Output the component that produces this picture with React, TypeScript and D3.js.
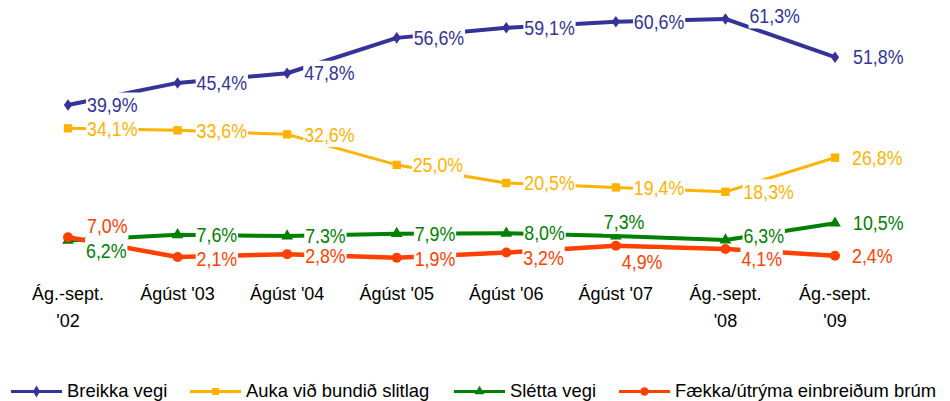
import React, { useEffect, useRef } from "react";
import * as d3 from "d3";

const categories = [
  ["Ág.-sept.", "'02"],
  ["Ágúst '03"],
  ["Ágúst '04"],
  ["Ágúst '05"],
  ["Ágúst '06"],
  ["Ágúst '07"],
  ["Ág.-sept.", "'08"],
  ["Ág.-sept.", "'09"],
];

const seriesNames = [
  "Breikka vegi",
  "Auka við bundið slitlag",
  "Slétta vegi",
  "Fækka/útrýma einbreiðum brúm",
];

const breikka = [39.9, 45.4, 47.8, 56.6, 59.1, 60.6, 61.3, 51.8];
const auka = [34.1, 33.6, 32.6, 25.0, 20.5, 19.4, 18.3, 26.8];
const sletta = [6.2, 7.6, 7.3, 7.9, 8.0, 7.3, 6.3, 10.5];
const faekka = [7.0, 2.1, 2.8, 1.9, 3.2, 4.9, 4.1, 2.4];

// label placement offsets (dx to left edge, dy to text middle)
const breikkaOff = [[19, 0], [19, 0], [17, 0], [17, 0], [18, 0], [18, 0], [24, -3], [18, 0]];
const aukaOff = [[19, 0], [19, 0], [17, 0], [16, 0], [18, 0], [18, 0], [18, 0], [17, 0]];
const slettaOff = [[18, 10], [19, 0], [18, 0], [18, 0], [18, 0], [-12, -14.5], [18, -4], [18, 0]];
const faekkaOff = [[19, -11], [19, 1.5], [18, 2], [18, 1], [17, 5], [6, 16], [16, 10], [17, 0]];

const colors = ["#333399", "#FFB300", "#008000", "#FF4000"];
const widths = [4, 3, 4, 4.5];
const symbols = [d3.symbolDiamond, d3.symbolSquare, d3.symbolTriangle, d3.symbolCircle];
const symSizes = [60, 70, 60, 78];
const legendX = [11, 190, 454, 619];

const FONT = "'Liberation Sans', Arial, Helvetica, sans-serif";

export default function App() {
  const ref = useRef<SVGSVGElement>(null);

  useEffect(() => {
    const svg = d3.select(ref.current);
    svg.selectAll("*").remove();

    const x = d3
      .scalePoint<number>()
      .domain(d3.range(categories.length))
      .range([68, 835]);
    const y = d3.scaleLinear().domain([0, 65]).range([265.4, 265.4 - 65 * 4.02]);

    const data = [breikka, auka, sletta, faekka];
    const offs = [breikkaOff, aukaOff, slettaOff, faekkaOff];

    const line = d3
      .line<number>()
      .x((_, i) => x(i)!)
      .y((d) => y(d));

    // lines and markers
    data.forEach((vals, s) => {
      const g = svg.append("g");
      g.append("path")
        .attr("d", line(vals)!)
        .attr("fill", "none")
        .attr("stroke", colors[s])
        .attr("stroke-width", widths[s])
        .attr("stroke-linejoin", "round");
      g.selectAll("path.m")
        .data(vals)
        .join("path")
        .attr("class", "m")
        .attr("d", d3.symbol().type(symbols[s]).size(symSizes[s])()!)
        .attr("transform", (d, i) =>
          s === 0
            ? `translate(${x(i)},${y(d)}) scale(1,0.8)`
            : `translate(${x(i)},${y(d)})`
        )
        .attr("fill", colors[s]);
    });

    // data labels
    data.forEach((vals, s) => {
      vals.forEach((v, i) => {
        const [dx, dy] = offs[s][i];
        const gx = x(i)! + dx;
        const gy = y(v) + dy;
        const g = svg
          .append("g")
          .attr("transform", `translate(${gx},${gy}) scale(0.89,1)`);
        const rect = g.append("rect").attr("fill", "white");
        const t = g
          .append("text")
          .attr("x", 0)
          .attr("y", 7.2)
          .attr("font-family", FONT)
          .attr("font-size", 20)
          .attr("fill", colors[s])
          .text(d3.format(".1f")(v).replace(".", ",") + "%");
        const w = (t.node() as SVGTextElement).getComputedTextLength();
        rect
          .attr("x", -1)
          .attr("y", -12.5)
          .attr("width", w + 2)
          .attr("height", 25);
      });
    });

    // x axis labels
    categories.forEach((lines, i) => {
      const t = svg
        .append("text")
        .attr("text-anchor", "middle")
        .attr("font-family", FONT)
        .attr("font-size", 18)
        .attr("fill", "#000");
      lines.forEach((ln, k) => {
        t.append("tspan")
          .attr("x", x(i)!)
          .attr("y", 300 + k * 27)
          .text(ln);
      });
    });

    // legend
    seriesNames.forEach((name, s) => {
      const lx = legendX[s];
      const g = svg.append("g");
      g.append("line")
        .attr("x1", lx)
        .attr("x2", lx + 51)
        .attr("y1", 391.5)
        .attr("y2", 391.5)
        .attr("stroke", colors[s])
        .attr("stroke-width", 3);
      g.append("path")
        .attr("d", d3.symbol().type(symbols[s]).size(symSizes[s] * 0.7)()!)
        .attr("transform", `translate(${lx + 25.5},391.5)`)
        .attr("fill", colors[s]);
      g.append("text")
        .attr("transform", `translate(${lx + 56},396.5) scale(0.97,1)`)
        .attr("font-family", FONT)
        .attr("font-size", 19)
        .attr("fill", "#000")
        .text(name);
    });
  }, []);

  return (
    <svg
      ref={ref}
      width={950}
      height={401}
      style={{ position: "absolute", left: 0, top: 0, background: "white" }}
    />
  );
}
